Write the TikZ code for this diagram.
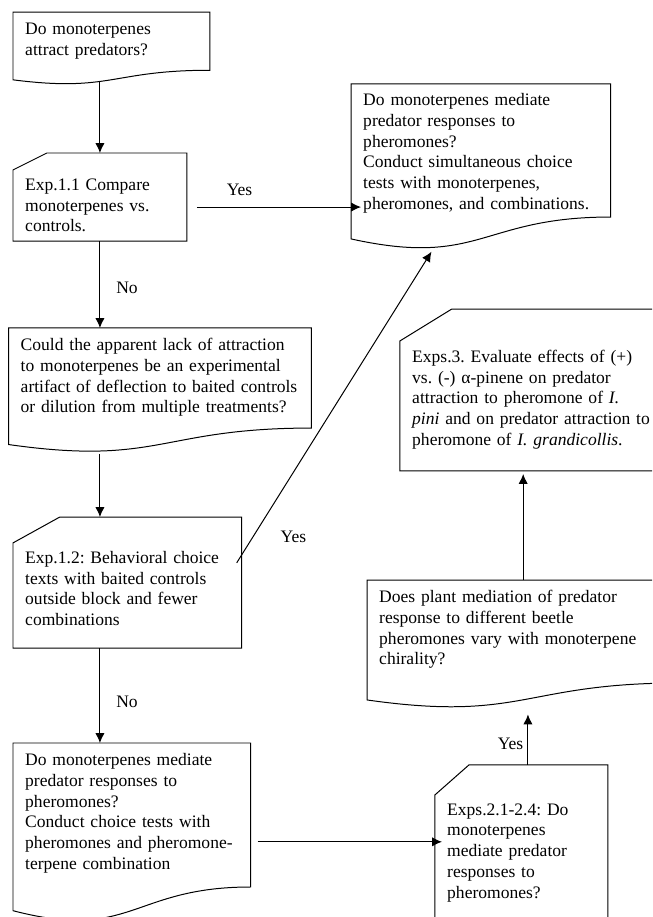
\documentclass[tikz,border=0pt]{standalone}
\usepackage{fontspec}
\setmainfont{Liberation Serif}
\usetikzlibrary{arrows.meta, calc, positioning}
\frenchspacing

\tikzstyle{boxline}		=[draw=black, line width=0.75pt]
\tikzstyle{flow}			=[-{Latex[length=7.5pt,width=7pt]}, line width=0.75pt]
\tikzstyle{answer}		=[inner sep=0pt, font=\fontsize{13.2}{15.75}\selectfont]
\tikzstyle{textbox}		=[rectangle, anchor=north west, align=left, inner xsep=9pt, inner ysep=0pt, font=\fontsize{13.2}{15.75}\selectfont]
% document shape: wavy bottom, right corner higher than left one
\tikzstyle{docbox}		=[textbox, append after command={\pgfextra{\draw[boxline]
		(\tikzlastnode.north west) -- (\tikzlastnode.north east)
		-- ($(\tikzlastnode.north east)!0.8126!(\tikzlastnode.south east)$)
		.. controls ($(\tikzlastnode.north)!0.8126!(\tikzlastnode.south)$) and ($(\tikzlastnode.north)!1.1216!(\tikzlastnode.south)$)
		.. ($(\tikzlastnode.north west)!0.9463!(\tikzlastnode.south west)$) -- cycle;}}]
% card shape: top left corner cut off by #1 x #2
\tikzset{cardbox/.style 2 args={textbox, append after command={\pgfextra{\draw[boxline]
		([yshift=-#2]\tikzlastnode.north west) -- ([xshift=#1]\tikzlastnode.north west)
		-- (\tikzlastnode.north east) -- (\tikzlastnode.south east)
		-- (\tikzlastnode.south west) -- cycle;}}}}

\begin{document}
\begin{tikzpicture}

	\useasboundingbox (0,0) rectangle (17.251, -24.262);
	\clip (0,0) rectangle (17.251, -24.262);

	\node (Attract)		[docbox, text width=129.75pt, text height=16.5pt, text depth=37.05pt]		at (+0.344, -0.318)		{Do monoterpenes\\attract predators?};
	\node (Compare)		[cardbox={25.5pt}{12.75pt}, text width=112.5pt, text height=27.75pt, text depth=38.25pt]		at (+0.344, -4.048)		{Exp.1.1 Compare\\monoterpenes vs.\\controls.};
	\node (Artifact)	[docbox, text width=209.6pt, text height=16.5pt, text depth=75.8pt]		at (+0.225, -8.678)
	{
		Could the apparent lack of attraction\\
		to monoterpenes be an experimental\\
		artifact of deflection to baited controls\\
		or dilution from multiple treatments?
	};
	\node (Simult)		[docbox, text width=177pt, text height=15.75pt, text depth=107.1pt]		at (+9.287, -2.222)
	{
		Do monoterpenes mediate\\
		predator responses to\\
		pheromones?\\
		Conduct simultaneous choice\\
		tests with monoterpenes,\\
		pheromones, and combinations.
	};
	\node (Behav)		[cardbox={35.25pt}{19.5pt}, text width=153.75pt, text height=34.5pt, text depth=63.75pt]		at (+0.344, -13.679)
	{
		Exp.1.2: Behavioral choice\\
		texts with baited controls\\
		outside block and fewer\\
		combinations
	};
	\node (Choice)		[docbox, text width=160.5pt, text height=16.5pt, text depth=116.5pt]		at (+0.344, -19.658)
	{
		Do monoterpenes mediate\\
		predator responses to\\
		pheromones?\\
		Conduct choice tests with\\
		pheromones and pheromone-\\
		terpene combination
	};
	\node (Exps2)		[cardbox={25.5pt}{22.5pt}, text width=111.75pt, text height=37.5pt, text depth=108.75pt]		at (+11.509, -20.240)
	{
		Exps.2.1-2.4: Do\\
		monoterpenes\\
		mediate predator\\
		responses to\\
		pheromones?
	};
	\node (Chiral)		[docbox, text width=216.75pt, text height=16.5pt, text depth=78.5pt]		at (+9.710, -15.346)
	{
		Does plant mediation of predator\\
		response to different beetle\\
		pheromones vary with monoterpene\\
		chirality?
	};
	\node (Exps3)		[cardbox={39pt}{24pt}, text width=207pt, text height=39.75pt, text depth=81.75pt]		at (+10.583, -8.176)
	{
		Exps.3. Evaluate effects of (+)\\
		vs. (-) α-pinene on predator\\
		attraction to pheromone of \textit{I.}\\
		\textit{pini} and on predator attraction to\\
		pheromone of \textit{I. grandicollis}.
	};

	% answers
	\node (YesSimult)	[answer]	at (+6.337, -5.027)		{Yes};
	\node (NoArtifact)	[answer]	at (+3.360, -7.620)		{No};
	\node (YesBehav)	[answer]	at (+7.765, -14.208)	{Yes};
	\node (NoChoice)	[answer]	at (+3.360, -18.574)	{No};
	\node (YesChiral)	[answer]	at (+13.507, -19.685)	{Yes};

	% connectors
	\draw[flow, shorten <=-1.5pt]	(Attract.south -| Compare.north) -- (Compare.north);
	\draw[flow]		(Compare.south) -- (Compare.south |- Artifact.north);
	\draw[flow]		([shift={(7.5pt,-7.5pt)}]Compare.east) -- ([shift={(7.5pt,-7.5pt)}]Compare.east -| Simult.west);
	\draw[flow, shorten <=2pt]		(Compare.south |- Artifact.south) -- (Compare.south |- Behav.north);
	\draw[flow]		([shift={(-3.75pt,-34.5pt)}]Behav.north east) -- ($(Simult.south west)!0.31!(Simult.south east)+(0,-3pt)$);
	\draw[flow]		(Compare.south |- Behav.south) -- (Compare.south |- Choice.north);
	\draw[flow]		([shift={(5.25pt,-7.7pt)}]Choice.east) -- ([shift={(5.25pt,-7.7pt)}]Choice.east -| Exps2.west);
	\draw[flow, shorten >=5.8pt]	([xshift=4.9pt]Exps2.north) -- ([xshift=4.9pt]Exps2.north |- Chiral.south);
	\draw[flow, shorten >=2.25pt]	(Chiral.north) -- (Chiral.north |- Exps3.south);

\end{tikzpicture}
\end{document}
